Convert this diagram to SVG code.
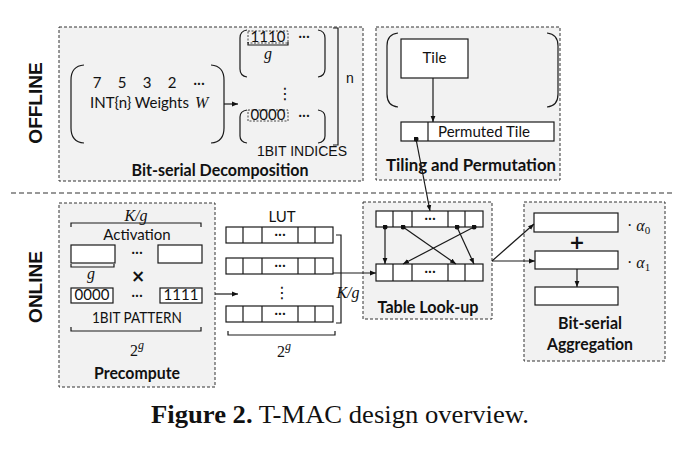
<svg xmlns="http://www.w3.org/2000/svg" width="686" height="452" viewBox="0 0 686 452">
<defs>
<marker id="ah" viewBox="0 0 10 10" refX="10" refY="5" markerWidth="6" markerHeight="6" orient="auto" markerUnits="userSpaceOnUse">
<path d="M0,1 L10,5 L0,9 z" fill="#111"/>
</marker>
<marker id="dot" viewBox="0 0 10 10" refX="5" refY="5" markerWidth="5" markerHeight="5" markerUnits="userSpaceOnUse">
<circle cx="5" cy="5" r="5" fill="#111"/>
</marker>
</defs>
<style>
.box{fill:#f2f2f2;stroke:#333;stroke-width:1;stroke-dasharray:3 2}
.cell{fill:#fff;stroke:#1a1a1a;stroke-width:1.2}
.dcell{fill:none;stroke:#333;stroke-width:0.9;stroke-dasharray:2 1.5}
.ln{fill:none;stroke:#1a1a1a;stroke-width:1.2}
.arr{fill:none;stroke:#1a1a1a;stroke-width:1.2;marker-end:url(#ah)}
.lbl{font-family:Lato,"Liberation Sans",sans-serif;font-weight:bold;font-size:17px;fill:#111;text-anchor:middle}
.t{font-family:Lato,"Liberation Sans",sans-serif;font-size:15px;fill:#111}
.c{text-anchor:middle}
.s{font-family:"Liberation Sans",sans-serif;font-size:14px;fill:#111}
.m{font-family:"Liberation Serif",serif;font-size:16px;fill:#111}
.i{font-style:italic}
.op{font-family:"DejaVu Sans",sans-serif;font-weight:bold;fill:#111;text-anchor:middle}
.side{font-family:"Liberation Sans",sans-serif;font-weight:bold;font-size:19px;fill:#111;text-anchor:middle}
.dots{font-family:"DejaVu Sans",sans-serif;font-size:16px;fill:#111;text-anchor:middle}
</style>

<text class="side" transform="translate(42,103) rotate(-90)">OFFLINE</text>
<text class="side" transform="translate(42,287) rotate(-90)">ONLINE</text>
<line x1="11" y1="193" x2="672" y2="193" stroke="#333" stroke-width="1.1" stroke-dasharray="5 3"/>

<g id="decomposition">
<rect class="box" x="59" y="27" width="304" height="154"/>
<path class="ln" d="M84,65 Q71,66 71,80 L71,128 Q71,142 84,143"/>
<path class="ln" d="M211,65 Q224,66 224,80 L224,128 Q224,142 211,143"/>
<text class="t c" y="88" font-size="16"><tspan x="97">7</tspan><tspan x="122">5</tspan><tspan x="147">3</tspan><tspan x="172">2</tspan><tspan x="199">···</tspan></text>
<text class="t" x="90" y="108" font-size="15.5">INT{n} Weights <tspan class="m i" x="195" font-size="17">W</tspan></text>
<path class="ln" d="M247,30 Q240,31 240,38 L240,69 Q240,76 247,77"/>
<path class="ln" d="M318,30 Q325,31 325,38 L325,69 Q325,76 318,77"/>
<rect class="dcell" x="248" y="31" width="40" height="12"/>
<text class="t c" x="268" y="41.5" font-size="11.5">1110</text>
<path class="ln" d="M248,42 L248,45 L288,45 L288,42" stroke-width="1"/>
<text class="m i c" x="268" y="59">g</text>
<text class="t c" x="304" y="41">···</text>
<text class="dots" x="285" y="99">⋮</text>
<path class="ln" d="M247,110 Q240,111 240,117 L240,136 Q240,142 247,143"/>
<path class="ln" d="M318,110 Q325,111 325,117 L325,136 Q325,142 318,143"/>
<rect class="dcell" x="248" y="110" width="40" height="11"/>
<text class="t c" x="268" y="120" font-size="11.5">0000</text>
<text class="t c" x="304" y="120">···</text>
<path class="ln" d="M333,28 L338,28 L338,145 L333,145"/>
<text class="s" x="346" y="83" font-size="15">n</text>
<text class="s c" x="302" y="155.5" font-size="14.5">1BIT INDICES</text>
<text class="lbl" x="220" y="176" textLength="177" lengthAdjust="spacingAndGlyphs">Bit-serial Decomposition</text>
</g>

<g id="tiling">
<rect class="box" x="376" y="27" width="184" height="153"/>
<path class="ln" d="M398,33 Q387,34 387,46 L387,94 Q387,106 398,107"/>
<path class="ln" d="M547,33 Q558,34 558,46 L558,94 Q558,106 547,107"/>
<rect class="cell" x="401" y="39" width="67" height="39"/>
<text class="t c" x="434.5" y="63">Tile</text>
<rect class="cell" x="401" y="122" width="153" height="19"/>
<line class="ln" x1="428" y1="122" x2="428" y2="141"/>
<text class="t c" x="484" y="137" textLength="92" lengthAdjust="spacingAndGlyphs">Permuted Tile</text>
<text class="lbl" x="471" y="171" textLength="170" lengthAdjust="spacingAndGlyphs">Tiling and Permutation</text>
</g>

<g id="precompute">
<rect class="box" x="59" y="203" width="156" height="184"/>
<text class="m i c" x="136" y="221">K/g</text>
<path class="ln" d="M71,227 L71,223 L201,223 L201,227" stroke-width="1"/>
<text class="t c" x="137" y="240" font-size="15.5">Activation</text>
<rect class="cell" x="71" y="245" width="44" height="18"/>
<rect class="cell" x="158" y="245" width="44" height="18"/>
<text class="t c" x="137" y="257">···</text>
<path class="ln" d="M71,264 L71,267 L114,267 L114,264" stroke-width="1"/>
<text class="m i c" x="91" y="279">g</text>
<text class="op" x="138" y="282" font-size="17">×</text>
<rect class="cell" x="71" y="288" width="42" height="15"/>
<text class="t c" x="92" y="300" font-size="13">0000</text>
<text class="t c" x="137" y="300">···</text>
<rect class="cell" x="160" y="288" width="42" height="15"/>
<text class="t c" x="181" y="300" font-size="13">1111</text>
<text class="t c" x="137" y="323" textLength="90" lengthAdjust="spacingAndGlyphs">1BIT PATTERN</text>
<path class="ln" d="M71,327 L71,331 L201,331 L201,327" stroke-width="1"/>
<text class="m c" x="137" y="356" font-size="17">2<tspan class="i" font-size="12" dy="-7">g</tspan></text>
<text class="lbl" x="137" y="379" textLength="86" lengthAdjust="spacingAndGlyphs">Precompute</text>
</g>

<g id="lut">
<text class="t c" x="282" y="222" font-size="16">LUT</text>
<g id="lut-row1">
<rect class="cell" x="226" y="227" width="107" height="16"/>
<path class="ln" d="M243,227 V243 M262,227 V243 M298,227 V243 M315,227 V243"/>
<text class="t c" x="280" y="239" font-size="13">···</text>
</g>
<g id="lut-row2">
<rect class="cell" x="226" y="258" width="107" height="16"/>
<path class="ln" d="M243,258 V274 M262,258 V274 M298,258 V274 M315,258 V274"/>
<text class="t c" x="280" y="270" font-size="13">···</text>
</g>
<text class="dots" x="282" y="298">⋮</text>
<g id="lut-row3">
<rect class="cell" x="226" y="306" width="107" height="16"/>
<path class="ln" d="M243,306 V322 M262,306 V322 M298,306 V322 M315,306 V322"/>
<text class="t c" x="280" y="318" font-size="13">···</text>
</g>
<path class="ln" d="M336,235 L341,235 L341,323 L336,323"/>
<text class="m i c" x="348" y="298">K/g</text>
<path class="ln" d="M228,331 L228,335 L335,335 L335,331" stroke-width="1"/>
<text class="m c" x="284" y="357" font-size="17">2<tspan class="i" font-size="12" dy="-7">g</tspan></text>
</g>

<g id="table-lookup">
<rect class="box" x="363" y="202" width="129" height="117"/>
<rect class="cell" x="376" y="211" width="107" height="16"/>
<path class="ln" d="M393,211 V227 M412,211 V227 M448,211 V227 M465,211 V227"/>
<text class="t c" x="430" y="223" font-size="13">···</text>
<rect class="cell" x="376" y="264" width="107" height="17"/>
<path class="ln" d="M393,264 V281 M412,264 V281 M448,264 V281 M465,264 V281"/>
<text class="t c" x="430" y="276" font-size="13">···</text>
<g id="permute-lines">
<line class="arr" x1="385" y1="227" x2="385" y2="264" marker-start="url(#dot)"/>
<line class="arr" x1="403" y1="227" x2="456" y2="264" marker-start="url(#dot)"/>
<line class="arr" x1="457" y1="227" x2="474" y2="264" marker-start="url(#dot)"/>
<line class="arr" x1="474" y1="227" x2="403" y2="264" marker-start="url(#dot)"/>
</g>
<text class="lbl" x="428" y="313" textLength="101" lengthAdjust="spacingAndGlyphs">Table Look-up</text>
</g>

<g id="aggregation">
<rect class="box" x="524" y="202" width="141" height="159"/>
<rect class="cell" x="534" y="213" width="84" height="19"/>
<rect class="cell" x="535" y="251" width="83" height="18"/>
<rect class="cell" x="535" y="287" width="83" height="18"/>
<text class="op" x="577" y="249" font-size="19">+</text>
<text class="m" x="627" y="231" font-size="17">· <tspan class="i">α</tspan><tspan font-size="11" dy="3">0</tspan></text>
<text class="m" x="627" y="268" font-size="17">· <tspan class="i">α</tspan><tspan font-size="11" dy="3">1</tspan></text>
<text class="lbl" x="590" y="329" textLength="64" lengthAdjust="spacingAndGlyphs">Bit-serial</text>
<text class="lbl" x="590" y="350" textLength="86" lengthAdjust="spacingAndGlyphs">Aggregation</text>
</g>

<g id="connectors">
<line class="arr" x1="224" y1="104" x2="238" y2="104"/>
<line class="arr" x1="433" y1="78" x2="433" y2="122"/>
<line class="arr" x1="416" y1="139" x2="430" y2="211" marker-start="url(#dot)"/>
<line class="arr" x1="215" y1="294" x2="238" y2="294"/>
<line class="arr" x1="333" y1="273" x2="376" y2="273"/>
<line class="arr" x1="492" y1="261" x2="534" y2="224"/>
<line class="arr" x1="492" y1="261" x2="535" y2="261"/>
<line class="arr" x1="577" y1="269" x2="577" y2="287"/>
</g>

<text x="340" y="423" font-family="'Liberation Serif',serif" font-size="25" fill="#111" text-anchor="middle" textLength="378" lengthAdjust="spacingAndGlyphs"><tspan font-weight="bold">Figure 2.</tspan> T-MAC design overview.</text>
</svg>
